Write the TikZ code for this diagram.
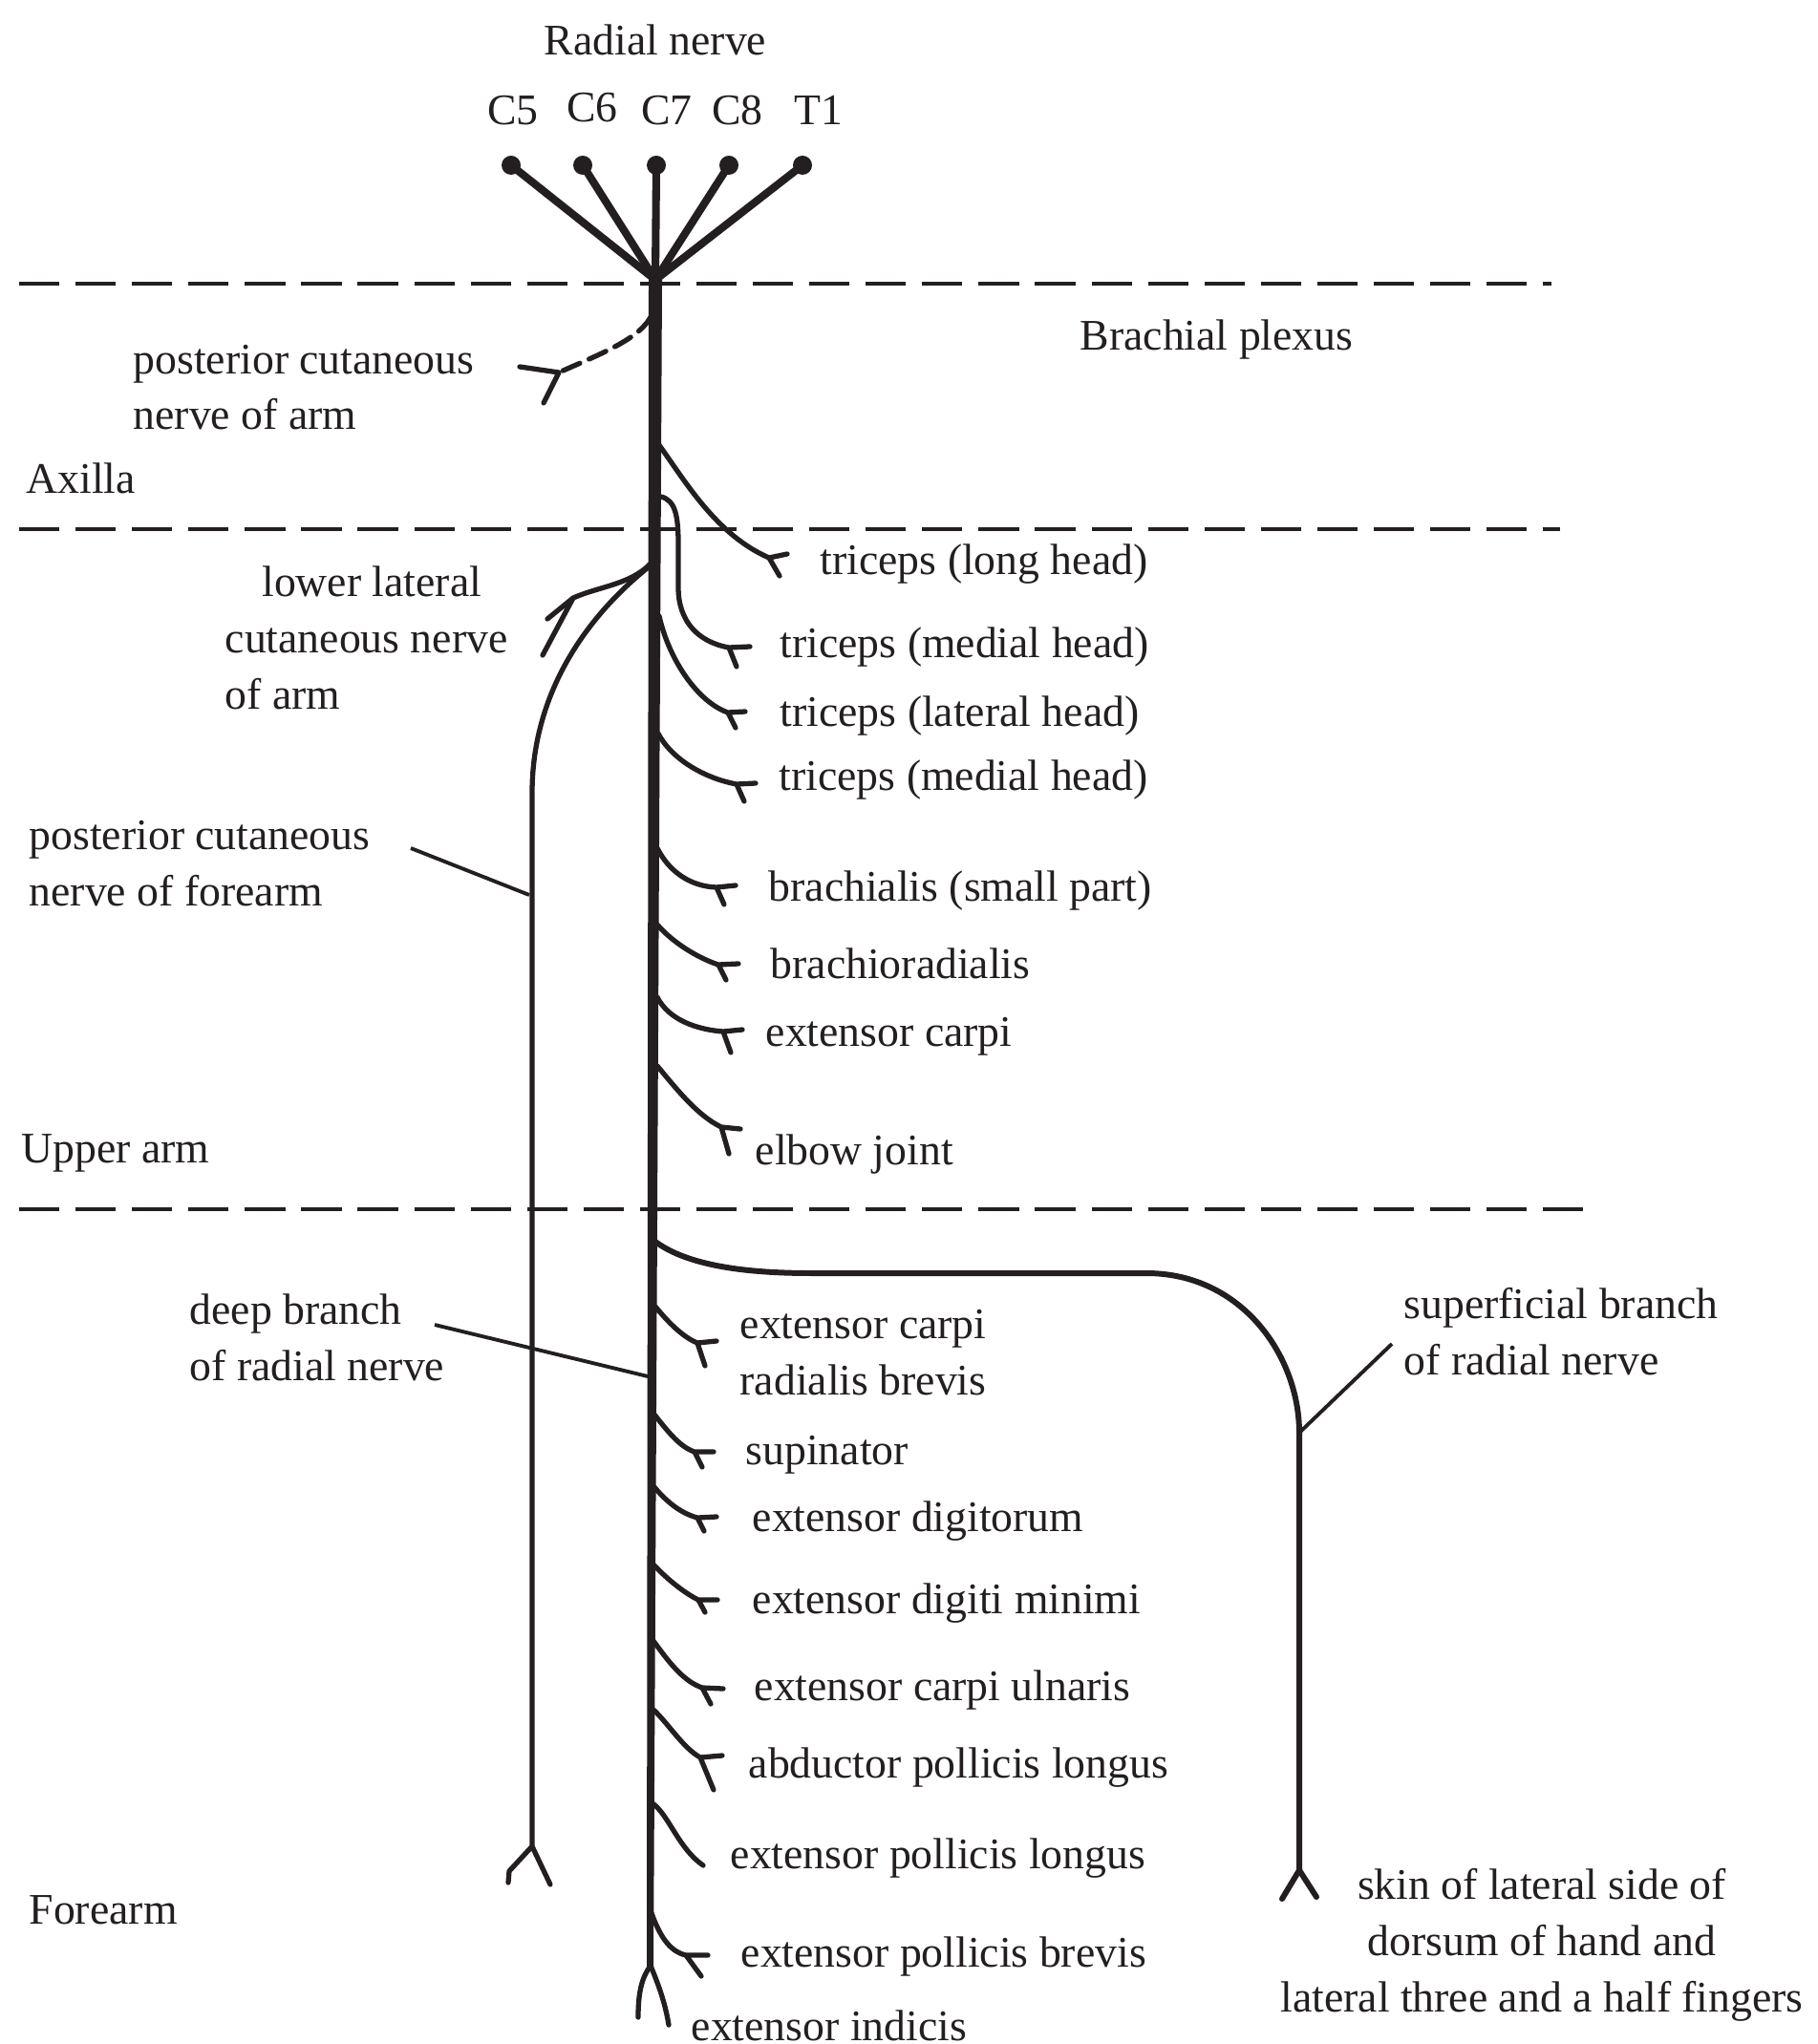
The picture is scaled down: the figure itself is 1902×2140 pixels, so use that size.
\documentclass[tikz,border=0pt]{standalone}
\usepackage{fontspec}
\setmainfont{Liberation Serif}
\definecolor{ink}{HTML}{231F20}
\tikzset{x=0.01cm, y=-0.01cm,    % one unit per pixel, y running downwards
         nerve/.style={          % side branches of the nerve
           line width=1.5pt,
           line cap=round,
           line join=round},
         root/.style={line width=2.3pt},
         level/.style={          % region borders
           line width=1.1pt,
           dash pattern=on 12pt off 4.8pt},
         pointer/.style={line width=1.1pt},
         lbl/.style={font=\fontsize{13pt}{16.7pt}\selectfont,
           inner sep=0pt,
           anchor=base west,     % multi-line labels sit on their last line
           align=left},
         dot/.style={circle,fill,inner sep=0pt,minimum size=0.2cm}}

\begin{document}
\begin{tikzpicture}[color=ink]
\useasboundingbox (0,0) rectangle (1902,2140);

% region borders
\draw[level] (20,297) -- (1624,297);
\draw[level] (20,554) -- (1633,554);
\draw[level] (20,1266) -- (1665,1266);

% roots
\coordinate (hub) at (686,293);
\begin{scope}[every node/.style=dot]
    \node (r5) at (535,173) {};
    \node (r6) at (610,173) {};
    \node (r7) at (687,173) {};
    \node (r8) at (763,173) {};
    \node (r1) at (840,173) {};
\end{scope}
\draw[root] (r5.center) -- (hub);
\draw[root] (r6.center) -- (hub);
\draw[root] (r7.center) -- (hub);
\draw[root] (r8.center) -- (hub);
\draw[root] (r1.center) -- (hub);

% main trunk, thinning towards the hand
\fill (679,293) -- (693,293) -- (684,2060) -- (677,2060) -- cycle;

% points the pointers run to
\coordinate (pcfAt) at (554,937);
\coordinate (deepAt) at (678,1441);
\coordinate (sbBend) at (1360,1500);
\coordinate (pcfTxt) at (430,888);
\coordinate (deepTxt) at (455,1387);
\coordinate (sbTxt) at (1457,1407);

\begin{scope}[nerve]
    % posterior cutaneous nerve of arm
    \coordinate (pca) at (585,390);
    \draw[dash pattern=on 5.5pt off 3pt] (681,332) .. controls (668,356) and (625,372) .. (pca);
    \draw (544,384) -- (pca) -- (569,422);

    % triceps
    \coordinate (tlh) at (805,584);
    \draw (690,466) .. controls (718,505) and (750,560) .. (tlh) -- ++(19,-4) (tlh) -- ++(11,19);
    \coordinate (tmh) at (763,678);
    \draw (692,520) .. controls (707,524) and (710,540) .. (710,570) -- (710,615)
          .. controls (710,650) and (730,672) .. (tmh) -- ++(22,-1) (tmh) -- ++(8,20);
    \coordinate (tla) at (762,746);
    \draw (690,645) .. controls (700,690) and (730,735) .. (tla) -- ++(18,-1) (tla) -- ++(8,16);
    \coordinate (tmh2) at (771,821);
    \draw (689,768) .. controls (703,795) and (738,815) .. (tmh2) -- ++(20,-1) (tmh2) -- ++(8,18);

    % brachialis, brachioradialis, extensor carpi, elbow
    \coordinate (bra) at (750,929);
    \draw (688,888) .. controls (700,912) and (722,928) .. (bra) -- ++(20,-2) (bra) -- ++(8,18);
    \coordinate (brr) at (752,1010);
    \draw (688,968) .. controls (705,988) and (733,1004) .. (brr) -- ++(21,-1) (brr) -- ++(8,16);
    \coordinate (ecp) at (757,1080);
    \draw (688,1044) .. controls (700,1068) and (730,1078) .. (ecp) -- ++(20,-2) (ecp) -- ++(8,22);
    \coordinate (elb) at (755,1180);
    \draw (688,1116) .. controls (708,1140) and (730,1168) .. (elb) -- ++(20,2) (elb) -- ++(8,28);

    % lower lateral cutaneous nerve of arm
    \coordinate (llc) at (600,626);
    \draw (681,590) .. controls (660,612) and (627,614) .. (llc) -- (573,648) (llc) -- (568,686);

    % posterior cutaneous nerve of forearm
    \coordinate (pcf) at (557,1933);
    \draw (681,592) .. controls (620,640) and (557,720) .. (557,830) -- (pcf)
          -- ++(-24,26) -- ++(-1,12) (pcf) -- ++(19,40);

    % superficial branch
    \coordinate (sbr) at (1360,1958);
    \draw[line width=1.7pt] (686,1300) .. controls (720,1325) and (780,1333) .. (850,1333) -- (1200,1333)
          .. controls (1300,1333) and (1360,1420) .. (sbBend) -- (sbr) -- ++(-18,30) (sbr) -- ++(18,28);

    % deep branch
    \coordinate (ecrb) at (730,1406);
    \draw (686,1368) .. controls (700,1385) and (715,1400) .. (ecrb) -- ++(20,-2) (ecrb) -- ++(8,24);
    \coordinate (sup) at (727,1520);
    \draw (685,1481) .. controls (700,1500) and (712,1515) .. (sup) -- ++(20,0) (sup) -- ++(8,16);
    \coordinate (edg) at (730,1589);
    \draw (685,1557) .. controls (700,1575) and (715,1585) .. (edg) -- ++(20,-1) (edg) -- ++(7,14);
    \coordinate (edm) at (731,1675);
    \draw (684,1638) .. controls (700,1655) and (717,1668) .. (edm) -- ++(20,0) (edm) -- ++(7,13);
    \coordinate (ecu) at (735,1767);
    \draw (684,1718) .. controls (700,1740) and (715,1760) .. (ecu) -- ++(22,1) (ecu) -- ++(9,17);
    \coordinate (apl) at (733,1840);
    \draw (684,1790) .. controls (700,1805) and (715,1830) .. (apl) -- ++(23,-2) (apl) -- ++(14,34);
    \draw (683,1888) .. controls (700,1900) and (710,1935) .. (736,1953);
    \coordinate (epb) at (718,2047);
    \draw (682,2003) .. controls (690,2025) and (700,2043) .. (epb) -- ++(23,0) (epb) -- ++(16,22);
    % extensor indicis
    \coordinate (ein) at (681,2058);
    \draw (ein) .. controls (672,2070) and (668,2085) .. (668,2112);
    \draw (ein) .. controls (688,2075) and (696,2095) .. (700,2120);
\end{scope}

% pointers
\draw[pointer] (pcfTxt) -- (pcfAt);
\draw[pointer] (deepTxt) -- (deepAt);
\draw[pointer] (sbTxt) -- (sbBend);

% labels
\begin{scope}[every node/.style=lbl]
    \node[anchor=base] (radial) at (686,58) {Radial nerve};
    \node[anchor=base] (C5) at (537,131) {C5};
    \node[anchor=base] (C6) at (620,128) {C6};
    \node[anchor=base] (C7) at (698,131) {C7};
    \node[anchor=base] (C8) at (772,131) {C8};
    \node[anchor=base] (T1) at (857,131) {T1};

    \node (plexus) at (1130,367) {Brachial plexus};
    \node (axilla) at (27,517) {Axilla};
    \node (upper) at (22,1217) {Upper arm};
    \node (forearm) at (30,2014) {Forearm};

    \node (pcaL) at (139,450) {posterior cutaneous\\nerve of arm};
    \node (llcL) at (235,742) {\hspace*{11pt}lower lateral\\cutaneous nerve\\of arm};
    \node (pcfL) at (30,948) {posterior cutaneous\\nerve of forearm};
    \node (deepL) at (198,1445) {deep branch\\of radial nerve};
    \node (sbL) at (1469,1439) {superficial branch\\of radial nerve};
    \node[anchor=base,align=center] (skinL) at (1614,2106) {skin of lateral side of\\dorsum of hand and\\lateral three and a half fingers};

    \node (tlhL) at (858,601) {triceps (long head)};
    \node (tmhL) at (816,689) {triceps (medial head)};
    \node (tlaL) at (816,760) {triceps (lateral head)};
    \node (tmh2L) at (815,827) {triceps (medial head)};
    \node (braL) at (804,943) {brachialis (small part)};
    \node (brrL) at (806,1024) {brachioradialis};
    \node (ecpL) at (801,1095) {extensor carpi};
    \node (elbL) at (790,1219) {elbow joint};

    \node (ecrbL) at (774,1460) {extensor carpi\\radialis brevis};
    \node (supL) at (780,1533) {supinator};
    \node (edgL) at (787,1603) {extensor digitorum};
    \node (edmL) at (787,1689) {extensor digiti minimi};
    \node (ecuL) at (789,1780) {extensor carpi ulnaris};
    \node (aplL) at (783,1861) {abductor pollicis longus};
    \node (eplL) at (764,1956) {extensor pollicis longus};
    \node (epbL) at (775,2059) {extensor pollicis brevis};
    \node (einL) at (723,2136) {extensor indicis};
\end{scope}
\end{tikzpicture}
\end{document}
